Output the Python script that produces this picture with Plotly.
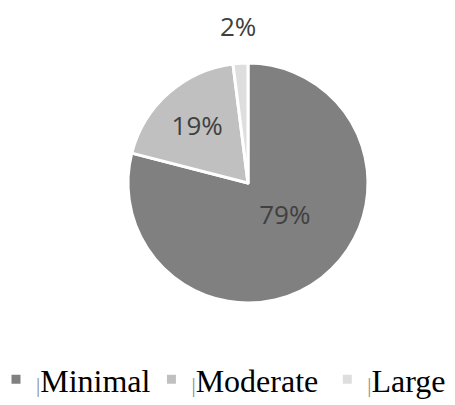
import math
import plotly.graph_objects as go

categories = ["Minimal", "Moderate", "Large"]
values = [79, 19, 2]
colors = ["#808080", "#c0c0c0", "#dedede"]

# page has an 8px body margin, so the figure is sized/placed to compensate
W, H = 447, 399
cx, cy, r = 240, 175, 120

total = sum(values)
pct = [f"{round(100 * v / total)}%" for v in values]

pads = ["\u00a0", "\u00a0\u00a0", ""]
fig = go.Figure(go.Pie(
    labels=[f"<span style='font-size:21px;color:#8c8c8c'>|</span>{c}{p}" for c, p in zip(categories, pads)],
    values=values,
    sort=False,
    direction="clockwise",
    rotation=0,
    marker=dict(colors=colors, line=dict(color="white", width=3)),
    text=pct,
    texttemplate=["%{text}<br> ", "%{text}", ""],
    textposition=["inside", "inside", "none"],
    insidetextorientation="horizontal",
    textfont=dict(family="Open Sans", size=26, color="#404040"),
    domain=dict(x=[(cx - r) / W, (cx + r) / W], y=[1 - (cy + r) / H, 1 - (cy - r) / H]),
    hoverinfo="skip",
))

# outside label for the small slice, placed along its mid-angle
start = sum(values[:2]) / total * 360
mid = math.radians(start + values[2] / total * 360 / 2)
dist = r + 37
fig.add_annotation(
    x=(cx + dist * math.sin(mid)) / W, y=1 - (cy - dist * math.cos(mid)) / H,
    xref="paper", yref="paper", text=pct[2], showarrow=False,
    font=dict(family="Open Sans", size=26, color="#404040"),
    xanchor="center", yanchor="middle",
)

fig.update_layout(
    width=W, height=H,
    margin=dict(l=0, r=0, t=0, b=0),
    paper_bgcolor="white",
    showlegend=True,
    legend=dict(
        orientation="h", x=0, y=0, xanchor="left", yanchor="bottom",
        font=dict(family="Liberation Serif", size=32, color="black"),
        itemwidth=30, indentation=-12,
    ),
)

fig.write_html("out.html")
